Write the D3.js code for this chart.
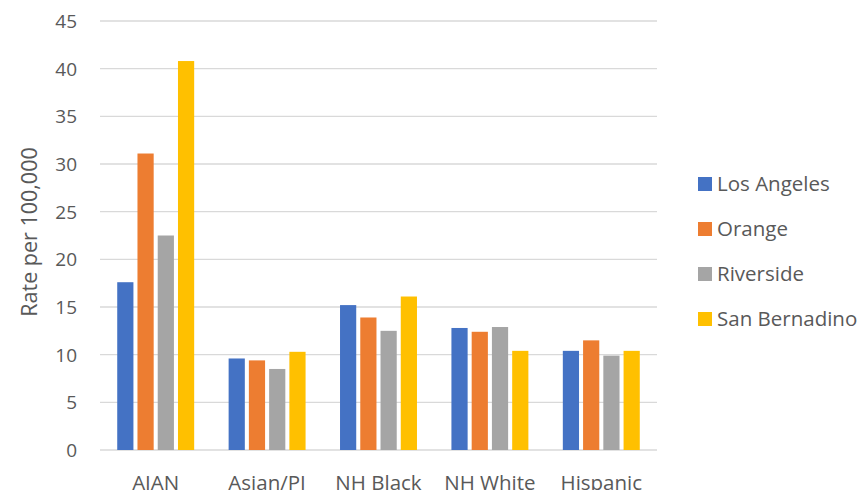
<!DOCTYPE html>
<html><head><meta charset="utf-8">
<script src="https://cdn.jsdelivr.net/npm/d3@7"></script>
<style>
html,body{margin:0;padding:0;background:#fff;}
text{font-family:"Open Sans","Liberation Sans",sans-serif;fill:#595959;}
</style></head>
<body>
<svg id="chart" width="859" height="490"></svg>
<script>
const categories = ["AIAN","Asian/PI","NH Black","NH White","Hispanic"];
const seriesNames = ["Los Angeles","Orange","Riverside","San Bernadino"];
const losAngeles = [17.6, 9.6, 15.2, 12.8, 10.4];
const orange = [31.1, 9.4, 13.9, 12.4, 11.5];
const riverside = [22.5, 8.5, 12.5, 12.9, 9.9];
const sanBernadino = [40.8, 10.3, 16.1, 10.4, 10.4];
const yTicks = [0,5,10,15,20,25,30,35,40,45];
const colors = ["#4472C4","#ED7D31","#A5A5A5","#FFC000"];
const seriesValues = [losAngeles, orange, riverside, sanBernadino];

const svg = d3.select("#chart");
const plotLeft = 100, plotRight = 657, plotTop = 21, plotBottom = 450;

const x = d3.scaleBand().domain(categories).range([plotLeft, plotRight]).paddingInner(0).paddingOuter(0);
const inner = d3.scaleBand().domain(seriesNames).range([0, 81]).paddingInner(0.2).paddingOuter(0.1);
const y = d3.scaleLinear().domain([0,45]).range([plotBottom, plotTop]);

// gridlines
svg.append("g").selectAll("line").data(yTicks).join("line")
  .attr("x1", plotLeft).attr("x2", plotRight)
  .attr("y1", d => y(d)).attr("y2", d => y(d))
  .attr("stroke", "#d9d9d9").attr("stroke-width", 1.3);

// y tick labels
svg.append("g").selectAll("text").data(yTicks).join("text")
  .attr("x", 77).attr("y", d => y(d)).attr("dy", "0.36em")
  .attr("text-anchor", "end").attr("font-size", 19).text(d => d);

// bars
const groupOffset = (x.bandwidth() - 81) / 2;
seriesNames.forEach((s, si) => {
  svg.append("g").selectAll("rect").data(seriesValues[si]).join("rect")
    .attr("x", (d, i) => x(categories[i]) + groupOffset + inner(s))
    .attr("width", inner.bandwidth())
    .attr("y", d => y(d))
    .attr("height", d => y(0) - y(d))
    .attr("fill", colors[si]);
});

// category labels
svg.append("g").selectAll("text").data(categories).join("text")
  .attr("x", d => x(d) + x.bandwidth()/2).attr("y", 490)
  .attr("text-anchor", "middle").attr("font-size", 20.5).text(d => d);

// axis title
svg.append("text")
  .attr("transform", "translate(37,232) rotate(-90)")
  .attr("text-anchor", "middle").attr("font-size", 21.5)
  .text("Rate per 100,000");

// legend
const lg = svg.append("g");
seriesNames.forEach((s, i) => {
  const cy = 184 + i * 45;
  lg.append("rect").attr("x", 698).attr("y", cy - 7).attr("width", 14).attr("height", 14).attr("fill", colors[i]);
  lg.append("text").attr("x", 717).attr("y", cy).attr("dy", "0.36em").attr("font-size", 20.5).text(s);
});
</script>
</body></html>
